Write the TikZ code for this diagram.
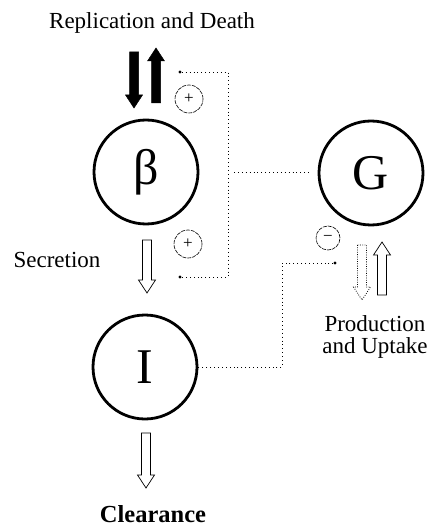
\documentclass[tikz,border=0pt]{standalone}
\usepackage{fontspec}
\setmainfont{Liberation Serif}
\usetikzlibrary{calc}

% block arrow: #2 = x, #3 = tail y, #4 = tip y
\newcommand\blockarrow[4][]{%
  \pgfmathsetmacro\headbase{#4-13*sign(#4-#3)}%
  \draw[#1] (#2-4.5,#3) -- (#2-4.5,\headbase) -- (#2-8.5,\headbase) -- (#2,#4)
    -- (#2+8.5,\headbase) -- (#2+4.5,\headbase) -- (#2+4.5,#3) -- cycle;
}

\tikzset{
  compartment/.style={circle, draw, line width=2.8pt, minimum size=104pt,
    inner sep=0pt, font=\fontsize{50}{50}\selectfont},
  label text/.style={font=\fontsize{23}{26}\selectfont, anchor=base, inner sep=0pt},
  sign/.style={circle, draw, line width=0.6pt, dash pattern=on 4pt off 1pt,
    inner sep=0pt, font=\fontsize{17}{17}\selectfont},
  feedback/.style={line width=0.9pt, dash pattern=on 0.9pt off 3pt},
  solidarrow/.style={fill=black, draw=black, line width=0.5pt},
  openarrow/.style={draw=black, line width=0.7pt, fill=white},
  dottedarrow/.style={draw=black, line width=0.8pt, dash pattern=on 0.8pt off 1.5pt},
  junction/.style={circle, fill=black, inner sep=0pt, minimum size=3.2pt}
}

\begin{document}
\begin{tikzpicture}[x=1pt, y=-1pt]
\useasboundingbox (0,0) rectangle (430,526);

% compartments
\node[compartment] (beta) at (146,172) {β};
\node[compartment] (G)    at (371,173) {G};
\node[compartment] (I)    at (145,367) {I};

% labels
\node[label text] (repl) at (152,29) {Replication and Death};
\node[label text] (secr) at (57,267) {Secretion};
\node[label text] (prod) at (375,331) {Production};
\node[label text] (upt)  at (375,353) {and Uptake};
\node[label text, font=\fontsize{24.5}{26}\selectfont\bfseries] (clear) at (153,522) {Clearance};

% replication / death
\blockarrow[solidarrow]{134}{52}{108}
\blockarrow[solidarrow]{156}{103}{48}

% secretion and clearance
\blockarrow[openarrow]{147}{240}{293}
\blockarrow[openarrow]{146}{433}{488}

% glucose production and uptake
\blockarrow[dottedarrow]{362}{245}{300}
\blockarrow[openarrow]{382}{295}{242}

% signs of the regulatory effects
\node[sign, minimum size=28pt] (p1) at (189,99) {+};
\node[sign, minimum size=28pt] (p2) at (188,244) {+};
\node[sign, minimum size=24pt] (m1) at (328,238) {−};

% regulation by glucose on beta-cell mass and secretion
\node[junction] (d1) at (180,72) {};
\node[junction] (d2) at (180,277) {};
\coordinate (c1) at (228,72);
\coordinate (c2) at (228,277);
\coordinate (c3) at (228,172);
\draw[feedback] (d1) -- (c1) -- (c2) -- (d2);
\draw[feedback, shorten <=6pt, shorten >=6pt] (c3) -- (c3 -| G.west);

% regulation by insulin on glucose uptake
\node[junction] (d3) at (335,263) {};
\coordinate (c4) at (282,263);
\draw[feedback] (d3) -- (c4) |- (I.east);
\end{tikzpicture}
\end{document}
